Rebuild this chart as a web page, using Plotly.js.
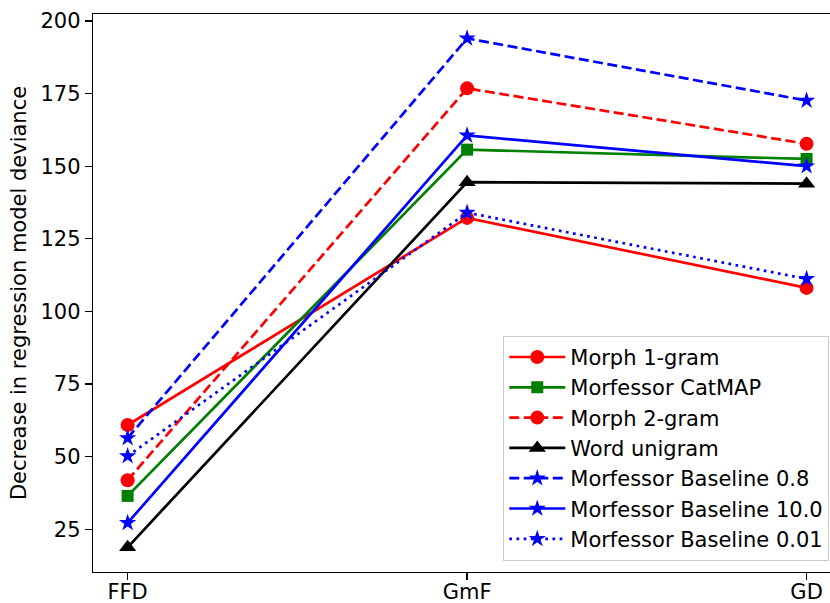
<!DOCTYPE html>
<html>
<head>
<meta charset="utf-8">
<script src="https://cdn.plot.ly/plotly-3.0.1.min.js"></script>
<style>html,body{margin:0;padding:0;background:#fff;}#chart{width:830px;height:603px;}</style>
</head>
<body>
<div id="chart"></div>
<script>
const categories = ["FFD", "GmF", "GD"];
const morph1gram = [60.9, 132.2, 108.1];
const morfessorCatMAP = [36.5, 155.7, 152.5];
const morph2gram = [41.9, 176.8, 157.7];
const wordUnigram = [18.8, 144.5, 144.0];
const baseline08 = [56.4, 194.0, 172.6];
const baseline10 = [27.2, 160.6, 150.0];
const baseline001 = [50.2, 134.0, 111.2];
const seriesNames = ["Morph 1-gram", "Morfessor CatMAP", "Morph 2-gram", "Word unigram",
  "Morfessor Baseline 0.8", "Morfessor Baseline 10.0", "Morfessor Baseline 0.01"];
const yTicks = [25, 50, 75, 100, 125, 150, 175, 200];

const DASH = "10px,4.5px";
const DOT = "2.7px,4.5px";
const styles = [
  {color: "#ff0000", dash: "solid", symbol: "circle", size: 14},
  {color: "#008000", dash: "solid", symbol: "square", size: 12},
  {color: "#ff0000", dash: DASH, symbol: "circle", size: 14},
  {color: "#000000", dash: "solid", symbol: "triangle-up", size: 15},
  {color: "#0000ff", dash: DASH, symbol: "star", size: 13},
  {color: "#0000ff", dash: "solid", symbol: "star", size: 13},
  {color: "#0000ff", dash: DOT, symbol: "star", size: 13}
];
const values = [morph1gram, morfessorCatMAP, morph2gram, wordUnigram, baseline08, baseline10, baseline001];

const traces = values.map((v, i) => ({
  type: "scatter",
  mode: "lines+markers",
  x: categories,
  y: v,
  name: seriesNames[i],
  legendgroup: "g" + i,
  line: {color: styles[i].color, width: 2.7, dash: styles[i].dash},
  marker: {color: styles[i].color, symbol: styles[i].symbol, size: styles[i].size, line: {width: 0}}
}));

const layout = {
  width: 830, height: 603,
  margin: {l: 93, r: 0, t: 14, b: 31},
  paper_bgcolor: "#fff", plot_bgcolor: "#fff",
  font: {family: "DejaVu Sans", size: 21, color: "#000"},
  showlegend: true,
  xaxis: {
    type: "category", range: [-0.102, 2.069],
    showgrid: false, zeroline: false,
    showline: true, linecolor: "#000", linewidth: 1.3, mirror: true,
    ticks: "outside", ticklen: 7, tickwidth: 1.3, tickcolor: "#000",
    tickfont: {size: 21}, ticklabelstandoff: -7
  },
  yaxis: {
    range: [10.3, 202.4],
    tickvals: yTicks,
    showgrid: false, zeroline: false,
    showline: true, linecolor: "#000", linewidth: 1.3,
    ticks: "outside", ticklen: 7, tickwidth: 1.3, tickcolor: "#000",
    tickfont: {size: 21},
    title: {text: "Decrease in regression model deviance", font: {size: 21}, standoff: 8}
  },
  legend: {
    x: 0.999, y: 0.02, xanchor: "right", yanchor: "bottom",
    bgcolor: "rgba(255,255,255,0.8)", bordercolor: "#cccccc", borderwidth: 1,
    font: {size: 21}, tracegroupgap: 0, itemwidth: 56
  }
};

Plotly.newPlot("chart", traces, layout, {displayModeBar: false, staticPlot: true});
</script>
</body>
</html>
